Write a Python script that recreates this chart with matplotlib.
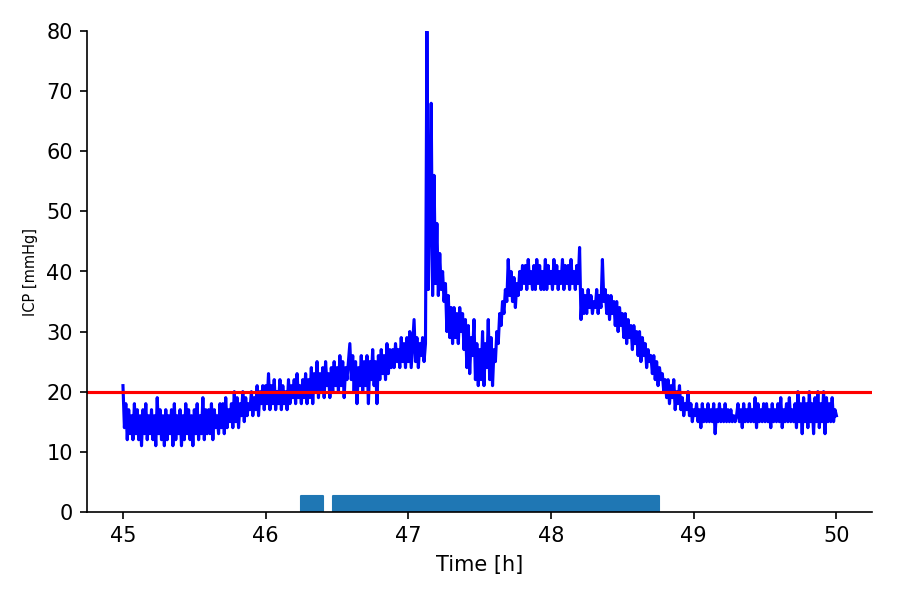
import numpy as np
import matplotlib
matplotlib.use("Agg")
import matplotlib.pyplot as plt

t_start = 45.0
t_step = 0.01
icp = [
    21, 14, 18, 12, 17, 13, 16, 12, 18, 13,
    17, 12, 16, 11, 17, 13, 18, 12, 16, 13,
    17, 12, 16, 11, 19, 13, 17, 12, 16, 11,
    17, 12, 16, 13, 17, 11, 18, 12, 16, 13,
    17, 11, 16, 12, 18, 13, 17, 12, 16, 11,
    17, 13, 18, 12, 16, 13, 19, 12, 17, 13,
    17, 13, 18, 12, 17, 14, 16, 13, 18, 14,
    18, 13, 19, 14, 17, 15, 18, 14, 20, 15,
    19, 14, 18, 16, 20, 15, 19, 16, 18, 17,
    20, 16, 19, 17, 21, 16, 20, 18, 21, 17,
    21, 18, 23, 17, 21, 18, 22, 17, 20, 18,
    22, 17, 21, 18, 20, 17, 22, 18, 21, 19,
    22, 18, 23, 19, 21, 18, 22, 19, 23, 18,
    22, 19, 24, 18, 23, 20, 25, 19, 23, 20,
    24, 19, 25, 21, 23, 19, 24, 20, 25, 21,
    24, 20, 26, 21, 25, 19, 24, 22, 25, 28,
    22, 26, 20, 25, 18, 24, 21, 26, 20, 25,
    21, 26, 18, 25, 22, 27, 21, 25, 18, 26,
    22, 27, 23, 26, 22, 28, 23, 27, 24, 27,
    24, 28, 25, 27, 24, 29, 25, 28, 24, 29,
    25, 30, 24, 28, 32, 25, 29, 24, 28, 26,
    29, 25, 28, 80, 37, 50, 68, 36, 56, 38,
    48, 36, 43, 37, 40, 35, 38, 30, 36, 29,
    34, 28, 34, 29, 33, 28, 34, 30, 33, 27,
    32, 24, 31, 23, 29, 26, 32, 22, 28, 21,
    27, 22, 30, 21, 28, 24, 32, 22, 29, 21,
    27, 25, 30, 28, 33, 31, 35, 33, 37, 35,
    42, 36, 40, 35, 39, 34, 38, 36, 40, 37,
    41, 38, 41, 37, 42, 38, 40, 37, 41, 37,
    42, 38, 41, 37, 40, 37, 42, 37, 41, 38,
    40, 37, 42, 38, 41, 37, 40, 38, 42, 37,
    41, 38, 41, 37, 42, 38, 40, 37, 41, 38,
    44, 32, 37, 33, 36, 33, 37, 34, 36, 33,
    35, 34, 37, 33, 36, 34, 42, 35, 37, 33,
    36, 32, 36, 33, 35, 31, 35, 30, 34, 31,
    33, 29, 33, 28, 32, 29, 31, 27, 31, 28,
    30, 26, 30, 25, 29, 26, 28, 24, 27, 25,
    26, 23, 26, 22, 25, 21, 24, 22, 23, 20,
    22, 19, 22, 18, 21, 19, 22, 17, 20, 18,
    21, 17, 19, 16, 18, 17, 20, 16, 18, 15,
    17, 16, 18, 15, 17, 14, 18, 15, 17, 15,
    18, 15, 17, 15, 18, 13, 17, 15, 18, 15,
    17, 15, 18, 15, 17, 15, 17, 15, 16, 15,
    16, 18, 15, 17, 14, 18, 15, 17, 15, 18,
    15, 17, 15, 19, 14, 18, 15, 17, 15, 18,
    15, 18, 15, 17, 14, 18, 15, 17, 15, 18,
    15, 19, 14, 17, 15, 18, 15, 19, 15, 17,
    15, 18, 14, 20, 15, 18, 13, 19, 15, 18,
    14, 20, 15, 18, 13, 19, 15, 20, 14, 18,
    15, 20, 13, 19, 15, 18, 15, 19, 15, 17,
    16,
]
threshold = 20
bar_starts = [46.25, 46.47]
bar_widths = [0.15, 2.29]
bar_height = 2.7

time_h = t_start + t_step * np.arange(len(icp))

fig = plt.figure(figsize=(6, 4), dpi=150)
ax = fig.add_axes([0.097, 0.147, 0.872, 0.801])
ax.plot(time_h, icp, color='b', lw=1.5)
ax.axhline(threshold, color='r', lw=1.5)
ax.broken_barh(list(zip(bar_starts, bar_widths)), (0, bar_height), color='#1f77b4')
ax.set_ylim(0, 80)
ax.set_xlabel('Time [h]')
ax.set_ylabel('ICP [mmHg]', fontsize=7)
ax.spines['top'].set_visible(False)
ax.spines['right'].set_visible(False)
fig.savefig('out.png', dpi=150)
